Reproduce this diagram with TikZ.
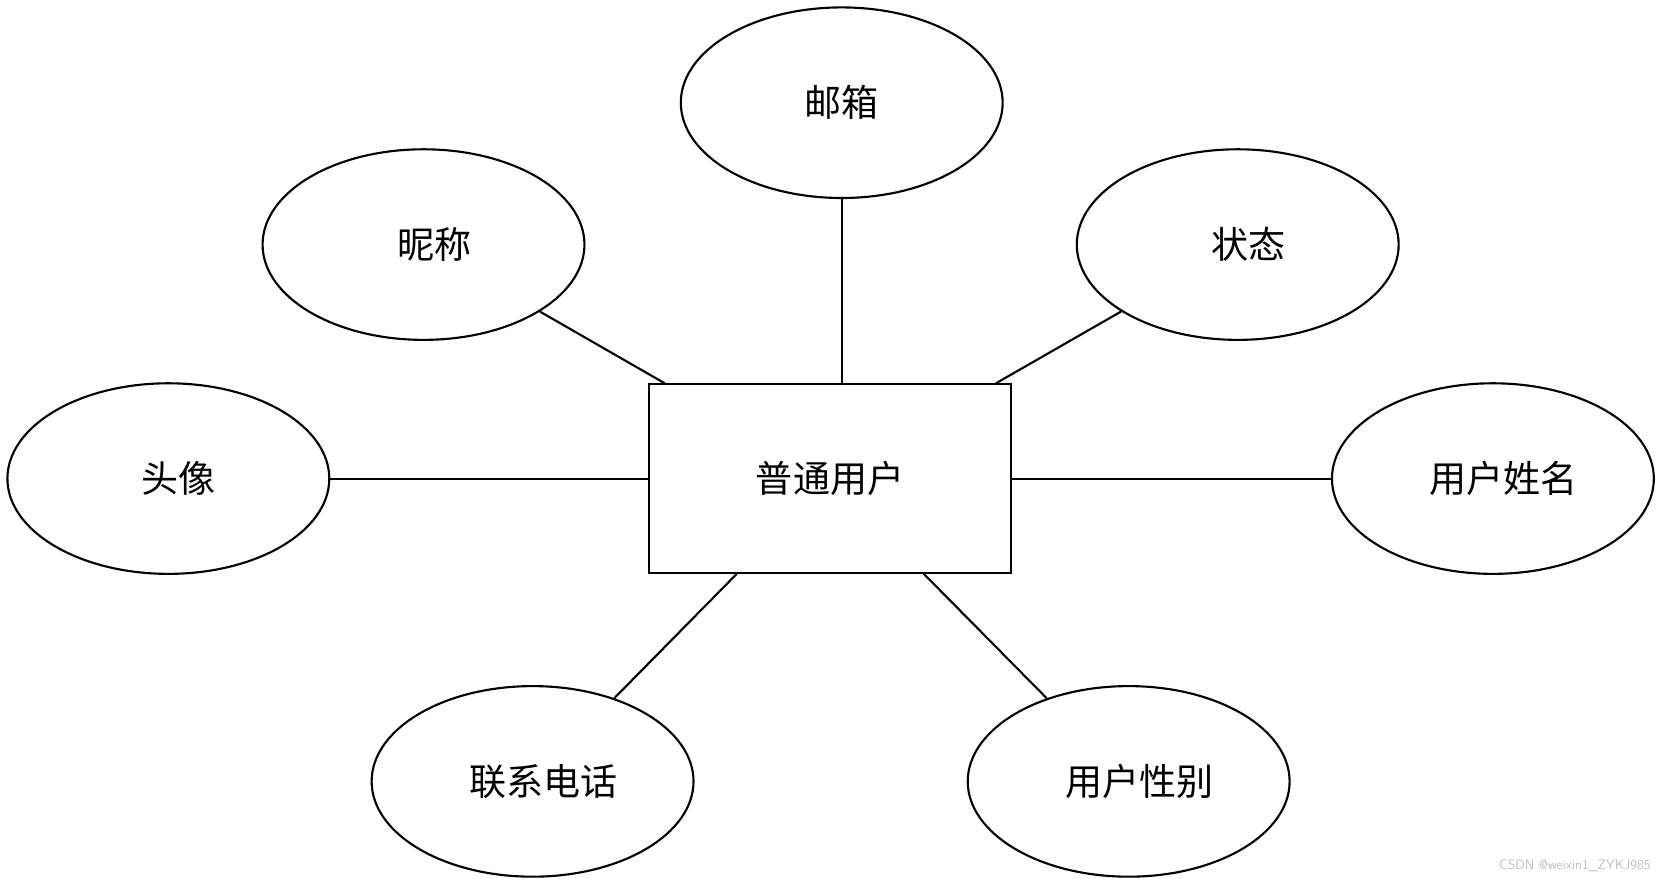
\documentclass[tikz,border=0pt]{standalone}
\usepackage{fontspec}
\newfontfamily\cjk{Noto Sans CJK SC}[BoldFont={Noto Sans CJK SC Bold}]
\usetikzlibrary{shapes.geometric}
\begin{document}
\begin{tikzpicture}[x=1pt,y=-1pt,line width=2pt,
  attr/.style={ellipse,draw,minimum width=304pt,minimum height=180pt,inner sep=0pt,font=\cjk\fontsize{35}{40}\selectfont},
  ent/.style={rectangle,draw,minimum width=342pt,minimum height=178pt,inner sep=0pt,font=\cjk\fontsize{35}{40}\selectfont}]
\useasboundingbox (0,0) rectangle (1565,830);
\node[ent] (u) at (784,452) {普通用户};
\node[attr] (mail) at (795,97) {};
\node at (795,97) [font=\cjk\fontsize{35}{40}\selectfont] {邮箱};
\node[attr] (nick) at (400,231) {};
\node at (410,231) [font=\cjk\fontsize{35}{40}\selectfont] {昵称};
\node[attr] (st) at (1169,231) {};
\node at (1179,231) [font=\cjk\fontsize{35}{40}\selectfont] {状态};
\node[attr] (av) at (159,452) {};
\node at (169,452) [font=\cjk\fontsize{35}{40}\selectfont] {头像};
\node[attr] (name) at (1410,452) {};
\node at (1420,452) [font=\cjk\fontsize{35}{40}\selectfont] {用户姓名};
\node[attr] (tel) at (503,738) {};
\node at (513,738) [font=\cjk\fontsize{35}{40}\selectfont] {联系电话};
\node[attr] (sex) at (1066,738) {};
\node at (1076,738) [font=\cjk\fontsize{35}{40}\selectfont] {用户性别};
\foreach \n in {nick,st,av,name,tel,sex} \draw (u) -- (\n);
\draw (u.north -| mail.south) -- (mail.south);
\node[anchor=south east,text=black!25,font=\sffamily\fontsize{13}{14}\selectfont,inner sep=2pt] (wm) at (1562,826) {CSDN @weixin1\_ZYKJ985};
\end{tikzpicture}
\end{document}
